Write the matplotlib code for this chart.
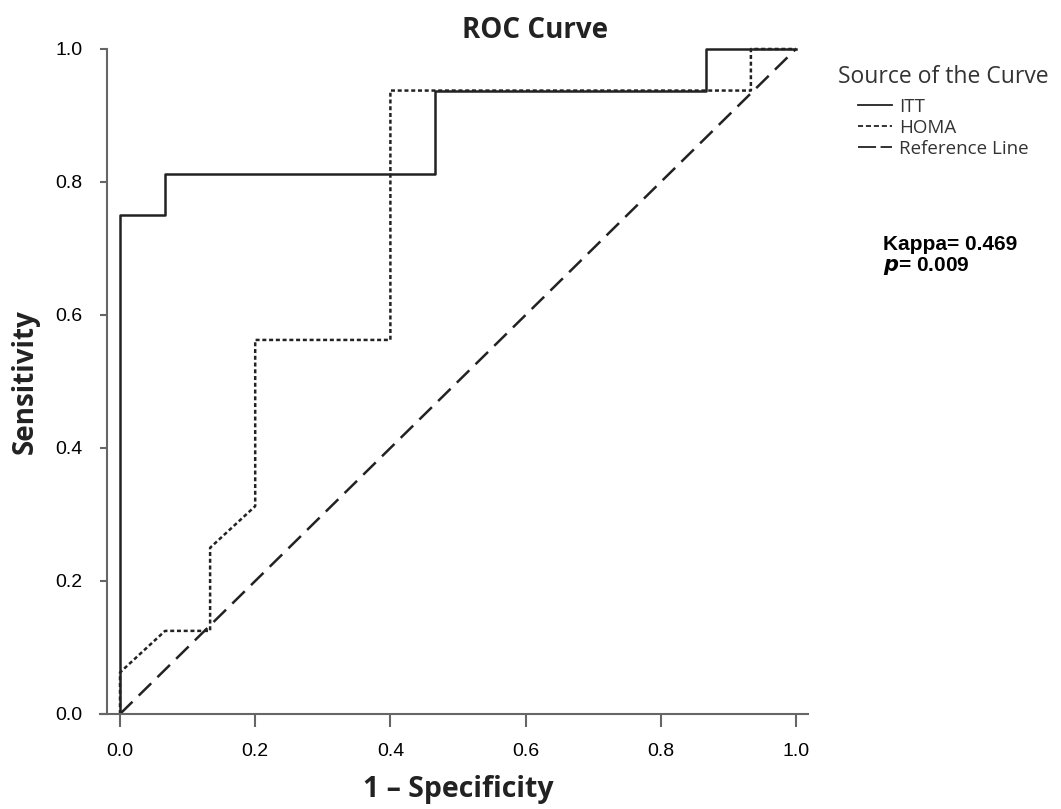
import matplotlib
matplotlib.use("Agg")
import matplotlib.pyplot as plt

# ROC coordinates (1 - specificity, sensitivity)
itt_fpr = [0.0, 0.0, 0.0667, 0.0667, 0.4667, 0.4667, 0.8667, 0.8667, 1.0]
itt_tpr = [0.0, 0.75, 0.75, 0.8125, 0.8125, 0.9375, 0.9375, 1.0, 1.0]

homa_fpr = [0.0, 0.0, 0.0667, 0.1333, 0.1333, 0.2, 0.2, 0.4, 0.4, 0.9333, 0.9333, 1.0]
homa_tpr = [0.0, 0.0625, 0.125, 0.125, 0.25, 0.3125, 0.5625, 0.5625, 0.9375, 0.9375, 1.0, 1.0]

ref_line = [0.0, 1.0]
ticks = [0.0, 0.2, 0.4, 0.6, 0.8, 1.0]
tick_labels = ["0.0", "0.2", "0.4", "0.6", "0.8", "1.0"]

kappa_text = "Kappa= 0.469"
p_value = "0.009"

W, H = 1061, 809
fig = plt.figure(figsize=(W / 100, H / 100), dpi=100)
ax = fig.add_axes([100 / W, 95 / H, 708 / W, 667 / H])

line_col = "#222222"
ax.plot(itt_fpr, itt_tpr, color=line_col, lw=1.8, ls="-", label="ITT")
ax.plot(homa_fpr, homa_tpr, color=line_col, lw=1.8, ls=(0, (1.6, 1.1)), label="HOMA")
ax.plot(ref_line, ref_line, color=line_col, lw=1.8, ls=(0, (7, 3.5)), label="Reference Line")

ax.set_xlim(-0.0296, 1.0178)
ax.set_ylim(0, 1.003)

for s in ["top", "right"]:
    ax.spines[s].set_visible(False)
ax.spines["left"].set_position(("data", -0.019))
ax.spines["left"].set_bounds(0, 1.0)
for s in ["left", "bottom"]:
    ax.spines[s].set_color("#666666")
    ax.spines[s].set_linewidth(1.5)

ax.set_xticks(ticks)
ax.set_xticklabels(tick_labels)
ax.set_yticks(ticks)
ax.set_yticklabels(tick_labels)
ax.tick_params(axis="x", direction="out", length=9, width=1.5, color="#666666",
               pad=12, labelsize=14)
ax.tick_params(axis="y", direction="out", length=5, width=1.5, color="#666666",
               pad=13, labelsize=14)
for lab in ax.get_xticklabels() + ax.get_yticklabels():
    lab.set_fontfamily("Liberation Sans")

fig.text(535 / W, 1 - 31 / H, "ROC Curve", ha="center", va="center",
         fontsize=20, fontweight="bold", family="Open Sans", color="#222222")
fig.text(458 / W, 1 - 790 / H, "1 \u2013 Specificity", ha="center", va="center",
         fontsize=20.5, fontweight="bold", family="Open Sans", color="#222222")
fig.text(25 / W, 1 - 382 / H, "Sensitivity", ha="center", va="center",
         rotation=90, fontsize=20, fontweight="bold", family="Open Sans", color="#222222")

# legend placed to the right of the plot
fig.text(838 / W, 1 - 77 / H, "Source of the Curve", ha="left", va="center",
         fontsize=16.5, family="Open Sans", color="#333333")
leg = ax.legend(loc="upper left", bbox_to_anchor=(858 / W, 1 - 98 / H),
                bbox_transform=fig.transFigure, frameon=False,
                prop={"family": "Open Sans", "size": 13.5},
                handlelength=1.8, handletextpad=0.4, labelspacing=0.15,
                borderpad=0, borderaxespad=0)
for t in leg.get_texts():
    t.set_color("#333333")
handles = leg.get_lines()
for h in handles:
    h.set_linewidth(1.3)
handles[1].set_linestyle((0, (2.8, 1.6)))
handles[2].set_linestyle((0, (10, 2.5)))

fig.text(883 / W, 1 - 244 / H, kappa_text, ha="left", va="center",
         fontsize=15, fontweight="bold", family="Liberation Sans")
fig.text(883 / W, 1 - 266 / H, r"$\mathbfit{p}$= " + p_value, ha="left", va="center",
         fontsize=15, fontweight="bold", family="Liberation Sans")

fig.savefig("out.png", dpi=100)
